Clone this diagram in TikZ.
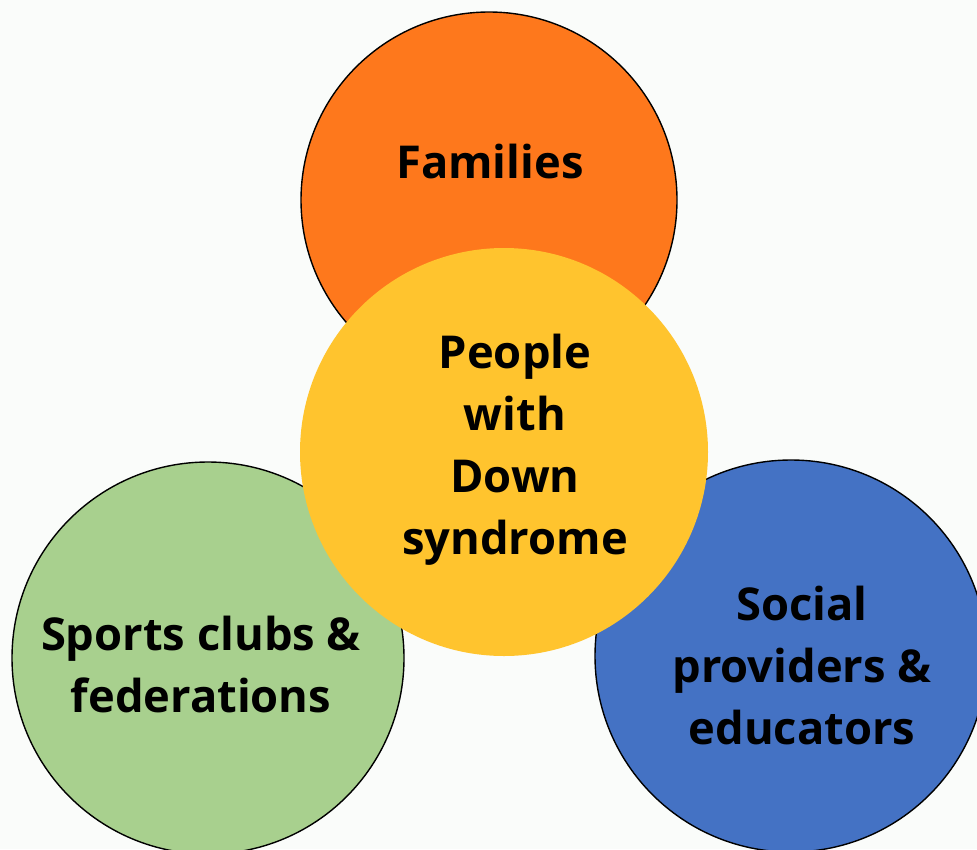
\documentclass[tikz,border=0pt]{standalone}
\usepackage{fontspec}
\setmainfont{Open Sans}
\definecolor{bgc}{RGB}{250,252,250}
\definecolor{orangec}{RGB}{254,120,28}
\definecolor{yellowc}{RGB}{255,196,46}
\definecolor{greenc}{RGB}{168,208,142}
\definecolor{bluec}{RGB}{68,114,196}
\begin{document}
\begin{tikzpicture}[x=1pt,y=-1pt,
  ring/.style={circle,draw=black,line width=1.4pt,inner sep=0pt},
  lbl/.style={font=\fontsize{45.3}{62}\selectfont\bfseries,align=center,text=black}]
\useasboundingbox (0,0) rectangle (977,849);
\clip (0,0) rectangle (977,849);
\fill[bgc] (0,0) rectangle (977,849);
\node[ring,fill=orangec,minimum size=376pt] (fam) at (489,200) {};
\node[ring,fill=greenc,minimum size=392pt] (spo) at (208,658) {};
\node[ring,fill=bluec,minimum size=392pt] (soc) at (791,656) {};
\node[circle,fill=yellowc,minimum size=408pt,inner sep=0pt] (ppl) at (504,452) {};
\node[lbl] (tfam) at (490,162) {Families};
\node[lbl] (tppl) at (515,450) {People\\with\\ Down\\syndrome};
\node[lbl] (tspo) at (201,665) {Sports clubs \&\\federations};
\node[lbl] (tsoc) at (802,666) {Social\\providers \&\\educators};
\end{tikzpicture}
\end{document}
